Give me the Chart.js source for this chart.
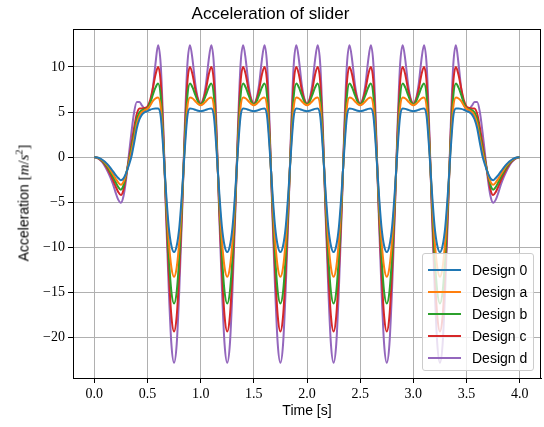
<!DOCTYPE html>
<html><head><meta charset="utf-8">
<script src="https://cdn.jsdelivr.net/npm/chart.js@4.4.1/dist/chart.umd.min.js"></script>
<style>
html,body{margin:0;padding:0;background:#fff;}
#wrap{position:relative;width:544px;height:427px;}
#ylab{position:absolute;left:24px;top:203px;transform:translate(-50%,-50%) rotate(-90deg);white-space:nowrap;font-family:'Liberation Sans',sans-serif;font-size:14px;color:#000;}
#ylab .m{font-family:'Liberation Serif',serif;font-size:15px;}
#ylab sup{font-size:10px;line-height:0;}
#legend{position:absolute;left:422px;top:253px;width:112px;height:118px;box-sizing:border-box;border:1px solid #cccccc;border-radius:3px;background:rgba(255,255,255,0.8);}
.row{position:absolute;left:0;height:20px;display:flex;align-items:center;font-family:'Liberation Sans',sans-serif;font-size:14px;color:#000;white-space:nowrap;}
.sw{width:33px;height:2px;margin-left:5px;margin-right:11px;}
</style>
</head>
<body>
<div id="wrap">
<canvas id="c" width="544" height="427"></canvas>
<div id="ylab">Acceleration <span class="m">[<i>m</i>/<i>s</i><sup>2</sup>]</span></div>
<div id="legend"></div>
</div>
<script>
// Sample times [s]
const time = [
0,0.025,0.05,0.075,0.1,0.125,0.15,0.175,0.2,0.225,0.25,0.275,0.3,0.325,0.35,0.375,0.4,0.425,0.45,0.475,
0.5,0.525,0.55,0.575,0.6,0.625,0.65,0.675,0.7,0.725,0.75,0.775,0.8,0.825,0.85,0.875,0.9,0.925,0.95,0.975,
1,1.025,1.05,1.075,1.1,1.125,1.15,1.175,1.2,1.225,1.25,1.275,1.3,1.325,1.35,1.375,1.4,1.425,1.45,1.475,
1.5,1.525,1.55,1.575,1.6,1.625,1.65,1.675,1.7,1.725,1.75,1.775,1.8,1.825,1.85,1.875,1.9,1.925,1.95,1.975,
2,2.025,2.05,2.075,2.1,2.125,2.15,2.175,2.2,2.225,2.25,2.275,2.3,2.325,2.35,2.375,2.4,2.425,2.45,2.475,
2.5,2.525,2.55,2.575,2.6,2.625,2.65,2.675,2.7,2.725,2.75,2.775,2.8,2.825,2.85,2.875,2.9,2.925,2.95,2.975,
3,3.025,3.05,3.075,3.1,3.125,3.15,3.175,3.2,3.225,3.25,3.275,3.3,3.325,3.35,3.375,3.4,3.425,3.45,3.475,
3.5,3.525,3.55,3.575,3.6,3.625,3.65,3.675,3.7,3.725,3.75,3.775,3.8,3.825,3.85,3.875,3.9,3.925,3.95,3.975,
4];

const design0 = [
0,-0.03,-0.12,-0.28,-0.5,-0.8,-1.15,-1.55,-1.95,-2.3,-2.55,-2.35,-1.75,-0.9,0.1,1.6,3.2,4.2,4.75,5.0,
5.1,5.25,5.35,5.4,5.4,4.5,0.7,-3.9,-7.7,-9.8,-10.5,-9.8,-7.7,-3.9,0.7,4.5,5.4,5.35,5.25,5.15,
5.1,5.15,5.25,5.35,5.4,4.5,0.7,-3.9,-7.7,-9.8,-10.5,-9.8,-7.7,-3.9,0.7,4.5,5.4,5.35,5.25,5.15,
5.1,5.15,5.25,5.35,5.4,4.5,0.7,-3.9,-7.7,-9.8,-10.5,-9.8,-7.7,-3.9,0.7,4.5,5.4,5.35,5.25,5.15,
5.1,5.15,5.25,5.35,5.4,4.5,0.7,-3.9,-7.7,-9.8,-10.5,-9.8,-7.7,-3.9,0.7,4.5,5.4,5.35,5.25,5.15,
5.1,5.15,5.25,5.35,5.4,4.5,0.7,-3.9,-7.7,-9.8,-10.5,-9.8,-7.7,-3.9,0.7,4.5,5.4,5.35,5.25,5.15,
5.1,5.15,5.25,5.35,5.4,4.5,0.7,-3.9,-7.7,-9.8,-10.5,-9.8,-7.7,-3.9,0.7,4.5,5.4,5.4,5.35,5.25,
5.1,5.0,4.75,4.2,3.2,1.6,0.1,-0.9,-1.75,-2.35,-2.55,-2.3,-1.95,-1.55,-1.15,-0.8,-0.5,-0.28,-0.12,-0.03,
0];

const designA = [
0,-0.04,-0.15,-0.34,-0.6,-0.95,-1.38,-1.85,-2.35,-2.8,-3.05,-2.7,-1.8,-0.7,0.6,2.1,3.7,4.6,5.0,5.2,
5.35,5.7,6.2,6.5,6.6,5.5,1.2,-4.5,-9.2,-12.2,-13.25,-12.2,-9.2,-4.5,1.2,5.5,6.6,6.5,6.2,5.9,
5.75,5.9,6.2,6.5,6.6,5.5,1.2,-4.5,-9.2,-12.2,-13.25,-12.2,-9.2,-4.5,1.2,5.5,6.6,6.5,6.2,5.9,
5.75,5.9,6.2,6.5,6.6,5.5,1.2,-4.5,-9.2,-12.2,-13.25,-12.2,-9.2,-4.5,1.2,5.5,6.6,6.5,6.2,5.9,
5.75,5.9,6.2,6.5,6.6,5.5,1.2,-4.5,-9.2,-12.2,-13.25,-12.2,-9.2,-4.5,1.2,5.5,6.6,6.5,6.2,5.9,
5.75,5.9,6.2,6.5,6.6,5.5,1.2,-4.5,-9.2,-12.2,-13.25,-12.2,-9.2,-4.5,1.2,5.5,6.6,6.5,6.2,5.9,
5.75,5.9,6.2,6.5,6.6,5.5,1.2,-4.5,-9.2,-12.2,-13.25,-12.2,-9.2,-4.5,1.2,5.5,6.6,6.5,6.2,5.7,
5.35,5.2,5.0,4.6,3.7,2.1,0.6,-0.7,-1.8,-2.7,-3.05,-2.8,-2.35,-1.85,-1.38,-0.95,-0.6,-0.34,-0.15,-0.04,
0];

const designB = [
0,-0.05,-0.18,-0.4,-0.72,-1.12,-1.6,-2.15,-2.75,-3.3,-3.6,-3.1,-1.85,-0.5,1.0,2.6,4.2,4.95,5.2,5.3,
5.4,6.0,6.9,7.7,8.15,6.7,1.65,-5.1,-10.9,-14.9,-16.2,-14.9,-10.9,-5.1,1.65,6.7,8.15,7.7,6.9,6.15,
5.85,6.15,6.9,7.7,8.15,6.7,1.65,-5.1,-10.9,-14.9,-16.2,-14.9,-10.9,-5.1,1.65,6.7,8.15,7.7,6.9,6.15,
5.85,6.15,6.9,7.7,8.15,6.7,1.65,-5.1,-10.9,-14.9,-16.2,-14.9,-10.9,-5.1,1.65,6.7,8.15,7.7,6.9,6.15,
5.85,6.15,6.9,7.7,8.15,6.7,1.65,-5.1,-10.9,-14.9,-16.2,-14.9,-10.9,-5.1,1.65,6.7,8.15,7.7,6.9,6.15,
5.85,6.15,6.9,7.7,8.15,6.7,1.65,-5.1,-10.9,-14.9,-16.2,-14.9,-10.9,-5.1,1.65,6.7,8.15,7.7,6.9,6.15,
5.85,6.15,6.9,7.7,8.15,6.7,1.65,-5.1,-10.9,-14.9,-16.2,-14.9,-10.9,-5.1,1.65,6.7,8.15,7.7,6.9,6.0,
5.4,5.3,5.2,4.95,4.2,2.6,1.0,-0.5,-1.85,-3.1,-3.6,-3.3,-2.75,-2.15,-1.6,-1.12,-0.72,-0.4,-0.18,-0.05,
0];

const designC = [
0,-0.06,-0.21,-0.47,-0.84,-1.3,-1.86,-2.5,-3.2,-3.85,-4.2,-3.6,-2.0,-0.3,1.5,3.3,4.8,5.4,5.4,5.45,
5.6,6.3,7.6,9.1,10.0,8.25,2.25,-5.8,-12.6,-17.6,-19.3,-17.6,-12.6,-5.8,2.25,8.25,10.0,9.1,7.5,6.35,
5.9,6.35,7.5,9.1,10.0,8.25,2.25,-5.8,-12.6,-17.6,-19.3,-17.6,-12.6,-5.8,2.25,8.25,10.0,9.1,7.5,6.35,
5.9,6.35,7.5,9.1,10.0,8.25,2.25,-5.8,-12.6,-17.6,-19.3,-17.6,-12.6,-5.8,2.25,8.25,10.0,9.1,7.5,6.35,
5.9,6.35,7.5,9.1,10.0,8.25,2.25,-5.8,-12.6,-17.6,-19.3,-17.6,-12.6,-5.8,2.25,8.25,10.0,9.1,7.5,6.35,
5.9,6.35,7.5,9.1,10.0,8.25,2.25,-5.8,-12.6,-17.6,-19.3,-17.6,-12.6,-5.8,2.25,8.25,10.0,9.1,7.5,6.35,
5.9,6.35,7.5,9.1,10.0,8.25,2.25,-5.8,-12.6,-17.6,-19.3,-17.6,-12.6,-5.8,2.25,8.25,10.0,9.1,7.6,6.3,
5.6,5.45,5.4,5.4,4.8,3.3,1.5,-0.3,-2.0,-3.6,-4.2,-3.85,-3.2,-2.5,-1.86,-1.3,-0.84,-0.47,-0.21,-0.06,
0];

const designD = [
0,-0.07,-0.25,-0.56,-1.0,-1.55,-2.2,-2.95,-3.9,-4.7,-5.05,-4.3,-2.4,0.2,2.8,5.0,6.1,6.1,5.7,5.35,
5.3,5.9,7.6,10.3,12.4,10.2,3.0,-6.5,-14.5,-20.7,-22.75,-20.7,-14.5,-6.5,3.0,10.2,12.4,10.7,8.1,6.5,
5.95,6.5,8.1,10.7,12.4,10.2,3.0,-6.5,-14.5,-20.7,-22.75,-20.7,-14.5,-6.5,3.0,10.2,12.4,10.7,8.1,6.5,
5.95,6.5,8.1,10.7,12.4,10.2,3.0,-6.5,-14.5,-20.7,-22.75,-20.7,-14.5,-6.5,3.0,10.2,12.4,10.7,8.1,6.5,
5.95,6.5,8.1,10.7,12.4,10.2,3.0,-6.5,-14.5,-20.7,-22.75,-20.7,-14.5,-6.5,3.0,10.2,12.4,10.7,8.1,6.5,
5.95,6.5,8.1,10.7,12.4,10.2,3.0,-6.5,-14.5,-20.7,-22.75,-20.7,-14.5,-6.5,3.0,10.2,12.4,10.7,8.1,6.5,
5.95,6.5,8.1,10.7,12.4,10.2,3.0,-6.5,-14.5,-20.7,-22.75,-20.7,-14.5,-6.5,3.0,10.2,12.4,10.3,7.6,5.9,
5.3,5.35,5.7,6.1,6.1,5.0,2.8,0.2,-2.4,-4.3,-5.05,-4.7,-3.9,-2.95,-2.2,-1.55,-1.0,-0.56,-0.25,-0.07,
0];

const seriesNames = ['Design 0','Design a','Design b','Design c','Design d'];
const seriesValues = [design0, designA, designB, designC, designD];
const seriesColors = ['#1f77b4','#ff7f0e','#2ca02c','#d62728','#9467bd'];

const xTicks = [0,0.5,1,1.5,2,2.5,3,3.5,4];
const yTicks = [-20,-15,-10,-5,0,5,10];
const xRange = [-0.2, 4.2];
const yRange = [-24.45, 14.15];

const spines = {
  id:'spines',
  afterDraw(c){
    const a = c.chartArea, g = c.ctx;
    g.save();
    g.strokeStyle = '#000'; g.lineWidth = 1;
    g.beginPath();
    g.moveTo(Math.round(a.left), Math.round(a.top)+0.5);
    g.lineTo(Math.round(a.right), Math.round(a.top)+0.5);
    g.moveTo(Math.round(a.right)-0.5, Math.round(a.top));
    g.lineTo(Math.round(a.right)-0.5, Math.round(a.bottom));
    g.stroke();
    g.restore();
  }
};

const serif = 'Liberation Serif';
const sans = 'Liberation Sans';

new Chart(document.getElementById('c'), {
  type: 'line',
  data: {
    datasets: seriesNames.map((n, k) => ({
      label: n,
      data: time.map((t, i) => ({x: t, y: seriesValues[k][i]})),
      borderColor: seriesColors[k],
      backgroundColor: seriesColors[k],
      borderWidth: 2,
      pointRadius: 0,
      fill: false,
      cubicInterpolationMode: 'monotone'
    }))
  },
  options: {
    responsive: false,
    animation: false,
    devicePixelRatio: 1,
    layout: {padding: {left: 0, right: 3, top: 0, bottom: 0}},
    plugins: {
      legend: {display: false},
      tooltip: {enabled: false},
      title: {display: true, text: 'Acceleration of slider', color: '#000',
        font: {family: sans, size: 17, weight: 'normal'}, padding: {top: 4, bottom: 5}}
    },
    scales: {
      x: {
        type: 'linear', min: xRange[0], max: xRange[1],
        afterBuildTicks: s => { s.ticks = xTicks.map(v => ({value: v})); },
        afterFit: s => { s.height = 49; },
        ticks: {callback: v => Number(v).toFixed(1), color: '#000', font: {family: serif, size: 14}, padding: 3, maxRotation: 0, autoSkip: false},
        grid: {color: '#b0b0b0', lineWidth: 1, tickLength: 5, tickColor: '#000', drawTicks: true},
        border: {color: '#000', width: 1},
        title: {display: true, text: 'Time [s]', color: '#000', font: {family: sans, size: 14}, padding: {top: 0, bottom: 7}}
      },
      y: {
        type: 'linear', min: yRange[0], max: yRange[1],
        afterBuildTicks: s => { s.ticks = yTicks.map(v => ({value: v})); },
        afterFit: s => { s.width = 73; },
        ticks: {callback: v => v < 0 ? '\u2212' + Math.abs(v) : String(v), color: '#000', font: {family: serif, size: 14}, padding: 3, autoSkip: false},
        grid: {color: '#b0b0b0', lineWidth: 1, tickLength: 5, tickColor: '#000', drawTicks: true},
        border: {color: '#000', width: 1}
      }
    }
  },
  plugins: [spines]
});

// legend
const leg = document.getElementById('legend');
seriesNames.forEach((n, k) => {
  const r = document.createElement('div');
  r.className = 'row';
  r.style.top = (6 + k * 21.9) + 'px';
  const sw = document.createElement('div');
  sw.className = 'sw';
  sw.style.background = seriesColors[k];
  const tx = document.createElement('span');
  tx.textContent = n;
  r.appendChild(sw); r.appendChild(tx);
  leg.appendChild(r);
});
</script>
</body></html>
